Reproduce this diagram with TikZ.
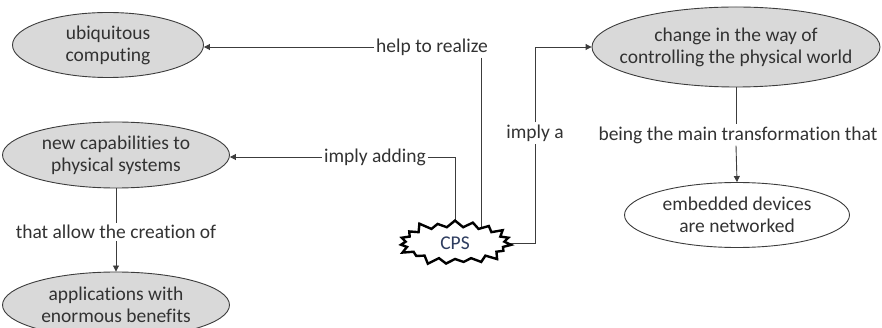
\documentclass[tikz,border=0pt]{standalone}
\usepackage{fontspec}
\setmainfont{Carlito}[Ligatures=NoCommon]
\usetikzlibrary{positioning,arrows.meta,shapes.geometric,shapes.symbols,backgrounds}
\definecolor{bubblegrey}{RGB}{217, 217, 217}
\definecolor{edgegrey}{RGB}{60, 60, 60}
\definecolor{textgrey}{RGB}{50, 50, 50}
\definecolor{cpsblue}{RGB}{45, 60, 95}

\begin{document}
\begin{tikzpicture}[
    x=1pt, y=-1pt,
    font=\fontsize{19.5}{22}\selectfont,
    >={Triangle[width=6pt,length=6pt]},
    bubble/.style={
        ellipse,
        draw=edgegrey,
        fill=bubblegrey,
        line width=0.9pt,
        inner sep=0pt
    },
    bubbletext/.style={
        align=center,
        text=textgrey
    },
    linklabel/.style={
        text=textgrey,
        inner sep=2pt
    },
    link/.style={
        draw=edgegrey,
        line width=0.9pt
    },
    arrow/.style={
        link,
        ->
    }
]
    \useasboundingbox (0,0) rectangle (882,328);

    % 1. Concept bubbles
    \node[bubble, minimum width=191pt, minimum height=65pt,
        label={[bubbletext]center:ubiquitous\\computing}] (ubi) at (108,45) {};
    \node[bubble, minimum width=227pt, minimum height=66pt,
        label={[bubbletext]center:new capabilities to\\physical systems}] (newcap) at (116,155) {};
    \node[bubble, minimum width=227pt, minimum height=66pt,
        label={[bubbletext]center:applications with\\enormous benefits}] (apps) at (116,305) {};
    \node[bubble, minimum width=288pt, minimum height=80pt,
        label={[bubbletext]center:change in the way of\\controlling the physical world}] (change) at (736,47) {};
    \node[bubble, fill=white, minimum width=225pt, minimum height=65pt,
        label={[bubbletext]center:embedded devices\\are networked}] (embed) at (737,215) {};

    % 2. Central concept
    \node[starburst, starburst points=19, starburst point height=9pt,
        draw=black, line width=2.4pt, fill=white, text=cpsblue,
        minimum width=117pt, minimum height=50pt, inner sep=0pt] (cps) at (455,243) {CPS};

    % 3. Link labels
    \node[linklabel] (realize) at (432,47) {help to realize};
    \node[linklabel] (adding) at (375,157) {imply adding};
    \node[linklabel] (implya) at (535,133) {imply a};
    \node[linklabel] (mainchange) at (738,135) {being the main transformation that};
    \node[linklabel] (creation) at (116,232) {that allow the creation of};

    % Connections
    \coordinate (realizedrop) at ([xshift=-9pt]realize.south east);
    \begin{scope}[on background layer]
        \draw[link] (realizedrop) -- (realizedrop |- cps.center);
        \draw[link] (adding.east) -| (cps.center);
        \draw[link] (cps.center) -| (implya.south);
    \end{scope}
    \draw[arrow] (realize.west) -- (realize.west -| ubi.east);
    \draw[arrow] (adding.west) -- (adding.west -| newcap.east);
    \draw[arrow] (implya.north) |- (change.west);

    \draw[link] (change.south) -- (change.south |- mainchange.north);
    \draw[arrow] (change.south |- mainchange.south) -- (embed.north);

    \draw[link] (newcap.south) -- (creation.north);
    \draw[arrow] (creation.south) -- (apps.north);

\end{tikzpicture}
\end{document}
